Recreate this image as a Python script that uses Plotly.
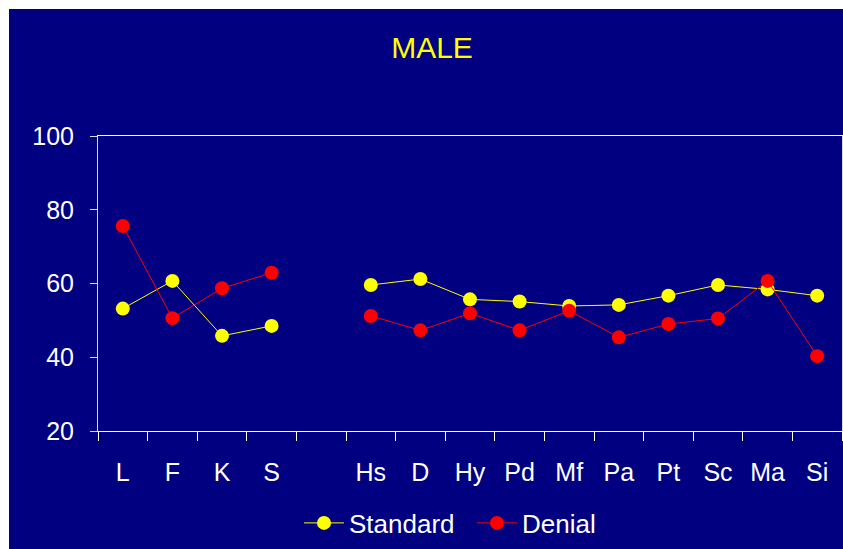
import plotly.graph_objects as go

categories = ["L", "F", "K", "S", " ", "Hs", "D", "Hy", "Pd", "Mf", "Pa", "Pt", "Sc", "Ma", "Si"]
standard = [53.2, 60.7, 45.8, 48.5, None, 59.6, 61.2, 55.7, 55.1, 53.9, 54.2, 56.7, 59.6, 58.4, 56.7]
denial = [75.6, 50.6, 58.7, 62.9, None, 51.2, 47.3, 51.9, 47.3, 52.6, 45.4, 49.0, 50.5, 60.7, 40.3]
y_ticks = [20, 40, 60, 80, 100]

NAVY = "#000080"
FONT = "Liberation Sans, Arial, sans-serif"

fig = go.Figure()
fig.add_trace(go.Scatter(
    x=categories, y=standard, name="Standard", mode="lines+markers",
    line=dict(color="#FFFF00", width=1),
    marker=dict(symbol="circle", size=14, color="#FFFF00"),
    connectgaps=False,
))
fig.add_trace(go.Scatter(
    x=categories, y=denial, name="Denial", mode="lines+markers",
    line=dict(color="#FF0000", width=1),
    marker=dict(symbol="circle", size=14, color="#FF0000"),
    connectgaps=False,
))

fig.update_layout(
    width=843, height=549,
    paper_bgcolor=NAVY, plot_bgcolor=NAVY,
    margin=dict(l=98, r=1, t=136, b=118),
    font=dict(family=FONT, color="white", size=24),
    title=dict(text="MALE", x=432 / 843, xanchor="center",
               y=1 - 47 / 549, yanchor="middle",
               font=dict(family=FONT, color="#FFFF00", size=30)),
    showlegend=True,
    legend=dict(orientation="h", x=(299 - 98) / 744, xanchor="left",
                y=(431 - 523) / 295, yanchor="middle",
                font=dict(family=FONT, color="white", size=26),
                bgcolor="rgba(0,0,0,0)", itemwidth=40, entrywidth=118),
    xaxis=dict(type="category", categoryorder="array", categoryarray=categories,
               range=[-0.5, len(categories) - 0.5],
               showgrid=False, zeroline=False,
               showline=True, linecolor="white", linewidth=1, mirror=True,
               ticks="outside", tickson="boundaries", ticklen=9, tickcolor="white",
               ticklabelstandoff=19,
               tickfont=dict(family=FONT, color="white", size=25)),
    yaxis=dict(range=[20, 100], tickvals=y_ticks, showgrid=False, zeroline=False,
               showline=True, linecolor="#D8D8F0", linewidth=1, mirror=True,
               ticks="outside", ticklen=7, tickcolor="#D8D8F0",
               ticklabelstandoff=11,
               tickfont=dict(family=FONT, color="white", size=25)),
    shapes=[
        dict(type="rect", xref="paper", yref="paper",
             x0=-98 / 744, x1=(9 - 98) / 744, y0=-118 / 295 - 0.01, y1=1 + 136 / 295 + 0.01,
             fillcolor="white", line=dict(width=0), layer="above"),
        dict(type="rect", xref="paper", yref="paper",
             x0=-98 / 744, x1=1.01, y0=1 + (136 - 9) / 295, y1=1 + 136 / 295 + 0.01,
             fillcolor="white", line=dict(width=0), layer="above"),
    ],
)

fig.write_html("out.html")
